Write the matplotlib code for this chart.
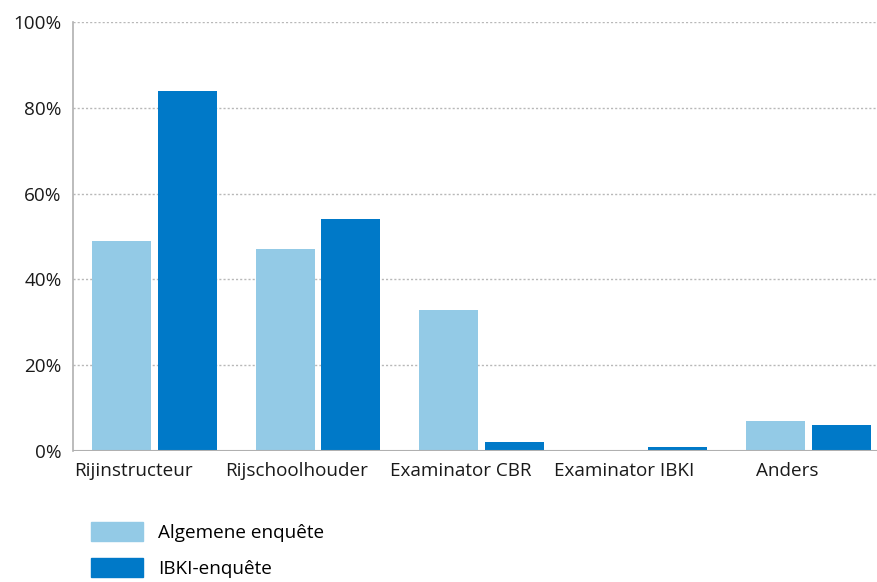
import numpy as np
import matplotlib
matplotlib.use('Agg')
import matplotlib.pyplot as plt
from matplotlib.patches import Patch

categories = ['Rijinstructeur', 'Rijschoolhouder', 'Examinator CBR', 'Examinator IBKI', 'Anders']
algemeen = [49, 47, 33, 0, 7]
ibki = [84, 54, 2, 1, 6]
series_names = ['Algemene enquête', 'IBKI-enquête']
yticks = [0, 20, 40, 60, 80, 100]

light = '#93cae6'
dark = '#0079c8'

plt.rcParams['font.family'] = ['Open Sans', 'DejaVu Sans']
fs = 13.6

fig = plt.figure(figsize=(8.77, 5.82), dpi=100)
ax = fig.add_axes([0.0832, 0.225, 0.9168, 0.737])

x = np.arange(len(categories))
w = 0.361
off = 0.2
ax.bar(x - off, algemeen, w, color=light, zorder=3)
ax.bar(x + off, ibki, w, color=dark, zorder=3)

ax.set_xlim(-0.5, 4.42)
ax.set_ylim(0, 100)
ax.set_yticks(yticks)
ax.set_yticklabels([f'{v}%' for v in yticks], fontsize=fs, color='#1a1a1a')
ax.tick_params(axis='y', length=0, pad=8)
ax.set_xticks([])

for v in yticks[1:]:
    ax.axhline(v, color='#b8b8b8', lw=1, ls=(0, (1.5, 1.5)), zorder=1)
ax.axhline(0, color='#b0b0b0', lw=1.5, zorder=4)

for s in ['top', 'right', 'bottom']:
    ax.spines[s].set_visible(False)
ax.spines['left'].set_color('#b0b0b0')
ax.spines['left'].set_linewidth(1.2)

for i, c in enumerate(categories):
    ax.text(i - 0.13, -2.6, c, ha='center', va='top', fontsize=fs,
            color='#1a1a1a', transform=ax.transData)

handles = [Patch(color=light), Patch(color=dark)]
fig.legend(handles, series_names, loc='upper left', bbox_to_anchor=(0.104, 0.103),
           frameon=False, fontsize=fs, handlelength=2.75, handleheight=1.15,
           labelspacing=0.85, handletextpad=0.8, borderaxespad=0, borderpad=0)

fig.savefig('out.png', dpi=100)
